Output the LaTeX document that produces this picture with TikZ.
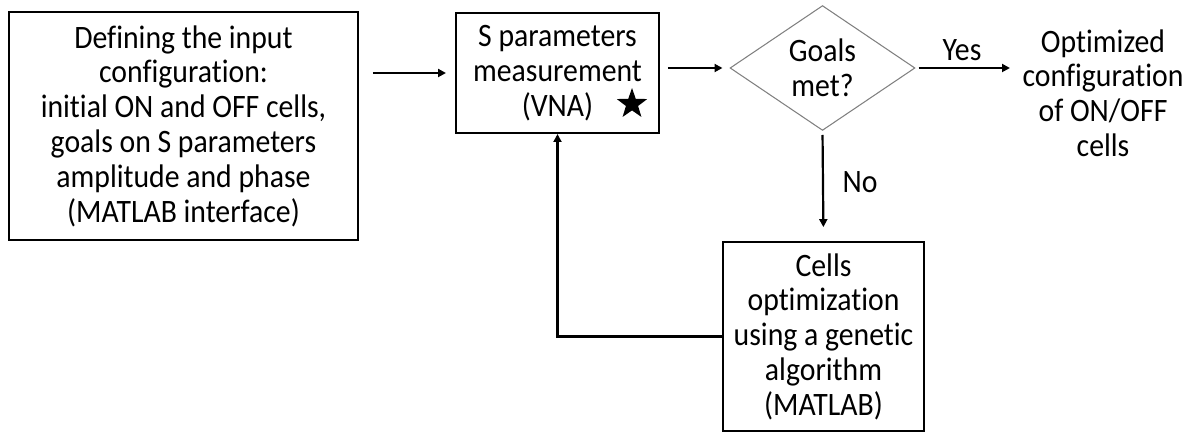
\documentclass[tikz,border=0pt]{standalone}
\usepackage{fontspec}
\setmainfont{Carlito}[Ligatures=NoCommon, FakeStretch=0.91]
\usetikzlibrary{shapes.geometric,arrows.meta}
\begin{document}
\begin{tikzpicture}[x=0.02cm,y=-0.02cm,
  every node/.style={font=\fontsize{18.6}{19.8}\selectfont, align=center},
  box/.style={draw, line width=1.2pt, inner sep=0pt},
  dec/.style={draw=gray, line width=0.6pt, diamond, inner sep=0pt},
  arr/.style={line width=1.25pt, -{Triangle[length=4.5pt,width=4.5pt]}}]
\useasboundingbox (0,0) rectangle (1192,432);
\node[box, minimum width=6.98cm, minimum height=4.56cm] (b1) at (183.5,126)
  {Defining the input\\configuration:\\initial ON and OFF cells,\\goals on S parameters\\amplitude and phase\\(MATLAB interface)};
\node[box, minimum width=4.06cm, minimum height=2.4cm] (b2) at (557.5,73)
  {S parameters\\measurement\\(VNA)};
\node[star, star points=5, star point ratio=2.5, fill=black, minimum size=0.64cm, inner sep=0pt] (st) at (632,104) {};
\node[dec, minimum width=3.7cm, minimum height=2.22cm] (d) at (822.5,68)
  {Goals\\met?};
\node[box, minimum width=4.02cm, minimum height=3.78cm] (b3) at (823.5,336.5)
  {Cells\\optimization\\using a genetic\\algorithm\\(MATLAB)};
\node[inner sep=0pt] (out) at (1103,93)
  {Optimized\\configuration\\of ON/OFF\\cells};
\node (yes) at (962,50) {Yes};
\node (no) at (860,182) {No};
\draw[arr, shorten <=7.9pt, shorten >=5.1pt] (b1.east |- b2.west) -- (b2.west);
\draw[arr, shorten <=4.5pt, shorten >=4pt] (b2.east |- d.west) -- (d.west);
\draw[arr, shorten <=1.7pt, shorten >=7pt] (d.east) -- (out.west |- d.east);
\draw[arr, shorten <=2.3pt, shorten >=7.9pt] (d.south) -- (b3.north);
\draw[arr] (b3.west) -| (b2.south);
\end{tikzpicture}
\end{document}
